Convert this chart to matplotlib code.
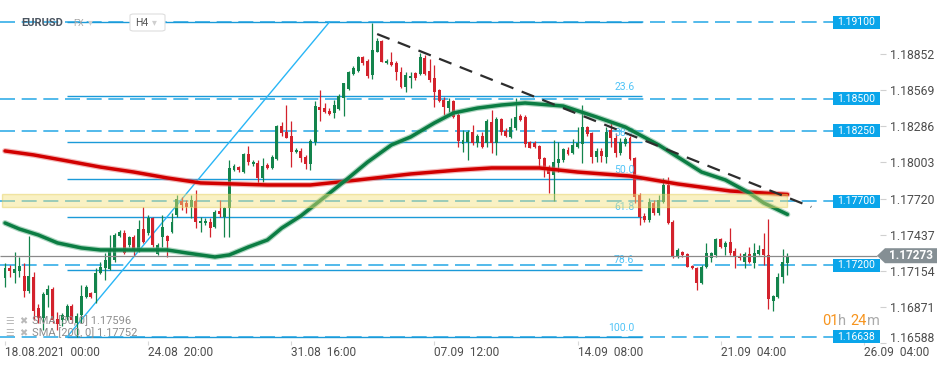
import numpy as np
import matplotlib
matplotlib.use("Agg")
import matplotlib.pyplot as plt
from matplotlib import patches, transforms
import matplotlib.patheffects as pe

plt.rcParams["font.family"] = ["Roboto", "DejaVu Sans"]

# EURUSD H4 bars, index 0 = 18.08.2021 00:00
opens = [
    1.17099, 1.17177, 1.17139, 1.17154, 1.17115, 1.16997, 1.17107, 1.16864, 1.16786, 1.16966,
    1.17014, 1.16779, 1.16771, 1.16794, 1.16880, 1.16748, 1.16810, 1.16950, 1.16982, 1.16982,
    1.17139, 1.17177, 1.17170, 1.17240, 1.17427, 1.17451, 1.17357, 1.17419, 1.17318, 1.17482,
    1.17451, 1.17568, 1.17287, 1.17419, 1.17427, 1.17458, 1.17592, 1.17701, 1.17686, 1.17654,
    1.17701, 1.17529, 1.17529, 1.17536, 1.17497, 1.17623, 1.17576, 1.17647, 1.17943, 1.17966,
    1.17927, 1.18069, 1.17990, 1.17998, 1.17881, 1.17982, 1.17958, 1.18029, 1.18287, 1.18240,
    1.18209, 1.18084, 1.18092, 1.18045, 1.17990, 1.18162, 1.18435, 1.18427, 1.18404, 1.18389,
    1.18420, 1.18506, 1.18576, 1.18694, 1.18717, 1.18826, 1.18795, 1.18686, 1.18865, 1.18951,
    1.18780, 1.18787, 1.18780, 1.18709, 1.18592, 1.18662, 1.18702, 1.18694, 1.18818, 1.18717,
    1.18662, 1.18568, 1.18490, 1.18427, 1.18482, 1.18373, 1.18147, 1.18162, 1.18240, 1.18154,
    1.18209, 1.18154, 1.18318, 1.18154, 1.18342, 1.18248, 1.18201, 1.18271, 1.18365, 1.18357,
    1.18162, 1.18154, 1.18131, 1.18037, 1.17966, 1.17904, 1.17998, 1.18021, 1.18100, 1.18077,
    1.18123, 1.18147, 1.18279, 1.18233, 1.18045, 1.18092, 1.18045, 1.18256, 1.18193, 1.18077,
    1.18147, 1.18193, 1.18037, 1.17748, 1.17584, 1.17552, 1.17686, 1.17608, 1.17693, 1.17826,
    1.17536, 1.17271, 1.17302, 1.17287, 1.17193, 1.17177, 1.17061, 1.17185, 1.17255, 1.17279,
    1.17404, 1.17341, 1.17380, 1.17310, 1.17271, 1.17224, 1.17287, 1.17217, 1.17287, 1.17326,
    1.17279, 1.16919, 1.16950, 1.17107, 1.17217,
]
highs = [
    1.17217, 1.17201, 1.17302, 1.17263, 1.17217, 1.17427, 1.17146, 1.16896, 1.16989, 1.17045,
    1.17029, 1.16833, 1.16826, 1.16896, 1.16896, 1.16826, 1.17045, 1.17045, 1.16989, 1.17177,
    1.17224, 1.17295, 1.17435, 1.17451, 1.17474, 1.17474, 1.17427, 1.17435, 1.17552, 1.17654,
    1.17592, 1.17576, 1.17373, 1.17592, 1.17435, 1.17608, 1.17748, 1.17732, 1.17709, 1.17748,
    1.17787, 1.17576, 1.17568, 1.17568, 1.17631, 1.17709, 1.17654, 1.18021, 1.17990, 1.17974,
    1.18077, 1.18131, 1.18021, 1.18021, 1.18037, 1.17998, 1.18061, 1.18295, 1.18318, 1.18451,
    1.18326, 1.18115, 1.18115, 1.18061, 1.18186, 1.18482, 1.18568, 1.18467, 1.18427, 1.18490,
    1.18537, 1.18624, 1.18717, 1.18756, 1.18834, 1.18834, 1.18811, 1.19092, 1.18975, 1.18959,
    1.18811, 1.18865, 1.18795, 1.18748, 1.18709, 1.18709, 1.18709, 1.18858, 1.18842, 1.18811,
    1.18764, 1.18576, 1.18513, 1.18506, 1.18490, 1.18389, 1.18256, 1.18256, 1.18295, 1.18225,
    1.18240, 1.18342, 1.18412, 1.18357, 1.18349, 1.18271, 1.18349, 1.18506, 1.18381, 1.18373,
    1.18170, 1.18170, 1.18139, 1.18045, 1.17982, 1.18178, 1.18162, 1.18115, 1.18123, 1.18186,
    1.18279, 1.18451, 1.18287, 1.18240, 1.18115, 1.18115, 1.18279, 1.18310, 1.18233, 1.18193,
    1.18201, 1.18209, 1.18045, 1.17764, 1.17608, 1.17725, 1.17709, 1.17748, 1.17881, 1.17888,
    1.17552, 1.17334, 1.17310, 1.17295, 1.17201, 1.17185, 1.17201, 1.17373, 1.17302, 1.17411,
    1.17411, 1.17388, 1.17489, 1.17334, 1.17295, 1.17302, 1.17341, 1.17373, 1.17357, 1.17451,
    1.17560, 1.16966, 1.17139, 1.17326, 1.17295,
]
lows = [
    1.17029, 1.17107, 1.17061, 1.17107, 1.16950, 1.16982, 1.16771, 1.16748, 1.16693, 1.16872,
    1.16748, 1.16693, 1.16724, 1.16771, 1.16748, 1.16638, 1.16748, 1.16942, 1.16942, 1.16904,
    1.17131, 1.17084, 1.17162, 1.17224, 1.17419, 1.17287, 1.17341, 1.17279, 1.17302, 1.17373,
    1.17435, 1.17341, 1.17279, 1.17341, 1.17263, 1.17451, 1.17576, 1.17631, 1.17608, 1.17568,
    1.17489, 1.17458, 1.17513, 1.17419, 1.17489, 1.17576, 1.17419, 1.17419, 1.17935, 1.17927,
    1.17920, 1.17982, 1.17974, 1.17842, 1.17849, 1.17951, 1.17951, 1.18021, 1.18209, 1.18193,
    1.17966, 1.18077, 1.18005, 1.17951, 1.17943, 1.18139, 1.18326, 1.18389, 1.18373, 1.18349,
    1.18412, 1.18365, 1.18568, 1.18686, 1.18709, 1.18764, 1.18663, 1.18655, 1.18865, 1.18787,
    1.18772, 1.18756, 1.18647, 1.18584, 1.18553, 1.18584, 1.18647, 1.18686, 1.18686, 1.18631,
    1.18435, 1.18474, 1.18373, 1.18396, 1.18349, 1.18123, 1.18084, 1.18021, 1.18139, 1.18123,
    1.18115, 1.18123, 1.18077, 1.18061, 1.18217, 1.18201, 1.18193, 1.18256, 1.18326, 1.18123,
    1.18115, 1.18115, 1.17958, 1.17888, 1.17764, 1.17701, 1.17927, 1.18005, 1.18061, 1.18069,
    1.18115, 1.17998, 1.18209, 1.17998, 1.18005, 1.18005, 1.17998, 1.18123, 1.18045, 1.18061,
    1.18131, 1.18021, 1.17686, 1.17513, 1.17536, 1.17536, 1.17592, 1.17592, 1.17686, 1.17521,
    1.17255, 1.17255, 1.17263, 1.17185, 1.17170, 1.17005, 1.17053, 1.17177, 1.17224, 1.17263,
    1.17334, 1.17279, 1.17279, 1.17177, 1.17240, 1.17177, 1.17217, 1.17177, 1.17279, 1.17201,
    1.16857, 1.16841, 1.16942, 1.17061, 1.17123,
]
closes = [
    1.17177, 1.17154, 1.17170, 1.17193, 1.16997, 1.17115, 1.16841, 1.16786, 1.16974, 1.17014,
    1.16771, 1.16740, 1.16810, 1.16880, 1.16771, 1.16802, 1.16958, 1.17029, 1.16950, 1.17139,
    1.17185, 1.17240, 1.17318, 1.17435, 1.17458, 1.17295, 1.17419, 1.17318, 1.17482, 1.17380,
    1.17568, 1.17357, 1.17357, 1.17497, 1.17388, 1.17536, 1.17717, 1.17670, 1.17654, 1.17709,
    1.17536, 1.17544, 1.17544, 1.17489, 1.17615, 1.17600, 1.17647, 1.17958, 1.17974, 1.17943,
    1.18069, 1.18005, 1.18005, 1.17881, 1.17974, 1.17958, 1.18045, 1.18287, 1.18233, 1.18193,
    1.18084, 1.18100, 1.18037, 1.17990, 1.18170, 1.18443, 1.18412, 1.18396, 1.18381, 1.18451,
    1.18521, 1.18624, 1.18709, 1.18741, 1.18826, 1.18780, 1.18678, 1.18881, 1.18951, 1.18787,
    1.18795, 1.18764, 1.18709, 1.18592, 1.18686, 1.18678, 1.18662, 1.18826, 1.18694, 1.18647,
    1.18553, 1.18482, 1.18435, 1.18482, 1.18357, 1.18170, 1.18178, 1.18240, 1.18154, 1.18209,
    1.18123, 1.18326, 1.18154, 1.18342, 1.18240, 1.18209, 1.18279, 1.18357, 1.18334, 1.18147,
    1.18115, 1.18123, 1.18029, 1.17943, 1.17912, 1.18005, 1.18029, 1.18107, 1.18069, 1.18139,
    1.18154, 1.18279, 1.18225, 1.18045, 1.18092, 1.18053, 1.18240, 1.18193, 1.18077, 1.18162,
    1.18186, 1.18029, 1.17732, 1.17576, 1.17552, 1.17693, 1.17608, 1.17709, 1.17826, 1.17529,
    1.17271, 1.17318, 1.17279, 1.17185, 1.17177, 1.17061, 1.17185, 1.17295, 1.17295, 1.17404,
    1.17341, 1.17373, 1.17295, 1.17263, 1.17255, 1.17287, 1.17224, 1.17295, 1.17318, 1.17279,
    1.16935, 1.16958, 1.17107, 1.17224, 1.17273,
]

# moving averages (bar index, value)
sma30_idx = [0, 3, 7, 11, 16, 20, 28, 34, 38, 44, 47, 51, 55, 58, 62, 67, 72, 76,
             81, 85, 90, 94, 99, 104, 109, 117, 124, 130, 137, 141, 146, 151, 156, 159, 164]
sma30 = [1.17529, 1.17482, 1.17435, 1.17373, 1.17334, 1.17318, 1.17318, 1.17318, 1.17295,
         1.17263, 1.17279, 1.17341, 1.17396, 1.17489, 1.17584, 1.17732, 1.17881, 1.18005,
         1.18139, 1.18201, 1.18311, 1.18389, 1.18427, 1.18451, 1.18467, 1.18443, 1.18357,
         1.18279, 1.18139, 1.18045, 1.17927, 1.17865, 1.17764, 1.17686, 1.17596]
sma200_idx = [0, 6, 13, 20, 27, 34, 41, 48, 55, 64, 74, 85, 95, 102, 112, 120, 131, 141, 152, 164]
sma200 = [1.18092, 1.18061, 1.18014, 1.17966, 1.17927, 1.17881, 1.17842, 1.17834, 1.17826,
          1.17826, 1.17865, 1.17912, 1.17943, 1.17959, 1.17959, 1.17927, 1.17896, 1.17834,
          1.17779, 1.17752]

h_levels = [1.19100, 1.18500, 1.18250, 1.17700, 1.17200, 1.16638]
fib_ratios = [0.0, 23.6, 38.2, 50.0, 61.8, 78.6, 100.0]
fib_hi, fib_lo = 1.19100, 1.16638
fib_start, fib_end = 13, 68
zone_lo, zone_hi = 1.17654, 1.17756
trend_idx = [78, 169]
trend_val = [1.19006, 1.17654]
last_price = 1.17273

y_ticks = [1.18852, 1.18569, 1.18286, 1.18003, 1.17720, 1.17437, 1.17154, 1.16871, 1.16588]
x_ticks = [0, 30, 60, 90, 120, 150, 180]
x_labels = ["18.08.2021  00:00", "24.08  20:00", "31.08  16:00", "07.09  12:00",
            "14.09  08:00", "21.09  04:00", "26.09  04:00"]

GREEN = "#13844c"
RED = "#d3222c"
W, H = 950, 367

fig = plt.figure(figsize=(9.5, 3.67), dpi=100)
ax = fig.add_axes([0, 22 / H, 880 / W, 345 / H])
ax.set_xlim(-1.05, 183.4)
ax.set_ylim(1.16575, 1.19272)
for s in ax.spines.values():
    s.set_visible(False)

py = (1.19272 - 1.16575) / 345  # price per pixel
blend = transforms.blended_transform_factory(fig.transFigure, ax.transData)

# candles
o, hi, lo, c = map(np.array, (opens, highs, lows, closes))
x = np.arange(len(o))
col = np.where(c >= o, GREEN, RED)
ax.vlines(x, lo, hi, colors=col, lw=0.9, zorder=3)
ax.bar(x, np.maximum(np.abs(c - o), py), bottom=np.minimum(o, c), width=0.62,
       color=col, zorder=4)

# horizontal levels
ax.hlines(h_levels, -1.05, 173.6, colors="#35aee8", linestyles=(0, (9, 4)), lw=1.2, zorder=2)

# fibonacci
fib_vals = [fib_hi - r / 100 * (fib_hi - fib_lo) for r in fib_ratios]
ax.hlines(fib_vals, fib_start, 133.6, colors="#1b9ad8", lw=1.0, zorder=2)
for r, v in zip(fib_ratios[1:], fib_vals[1:]):
    ax.annotate(f"{r:.1f}", (131.9, v), xytext=(0, 3), textcoords="offset points",
                ha="right", va="bottom", fontsize=7.5, color="#4fc3f7", zorder=5)
ax.plot([fib_start, fib_end], [fib_lo, fib_hi], color="#29b6f6", lw=1.0, zorder=2)

# current price
ax.hlines(last_price, -1.05, 182.8, colors="#8a8a8a", lw=0.9, zorder=5)

# moving averages
ax.plot(sma200_idx, sma200, color="#d10000", lw=2.5, zorder=6, solid_capstyle="round",
        path_effects=[pe.Stroke(linewidth=4.2, foreground="#e87070", alpha=0.5), pe.Normal()])
ax.plot(sma30_idx, sma30, color="#0b7d43", lw=2.5, zorder=6, solid_capstyle="round",
        path_effects=[pe.Stroke(linewidth=4.2, foreground="#5fae85", alpha=0.5), pe.Normal()])

# support zone
ax.add_patch(patches.Rectangle((-0.6, zone_lo), 164.5, zone_hi - zone_lo, fc="#f2e27a",
                               ec="#e3cd55", lw=1, alpha=0.45, zorder=7))

# down trend line
ax.plot(trend_idx, trend_val, color="#2d2d2d", lw=1.6, ls=(0, (6, 4)), zorder=8)

# axes ticks
ax.yaxis.tick_right()
ax.set_yticks(y_ticks)
ax.set_yticklabels([f"{v:.5f}" for v in y_ticks])
ax.tick_params(axis="y", length=4, color="#d0d0d0", pad=3, labelsize=8.8, labelcolor="#4d4d4d")
# bottom price label sits a little higher, clear of the time axis
lab = ax.get_yticklabels()[-1]
lab.set_transform(lab.get_transform() + transforms.ScaledTranslation(0, 0.06, fig.dpi_scale_trans))
ax.set_xticks(x_ticks)
ax.set_xticklabels(x_labels, ha="left")
ax.tick_params(axis="x", direction="in", length=3, color="#d8d8d8", pad=1,
               labelsize=8.6, labelcolor="#4d4d4d")

# blue level tags
for v in h_levels:
    ax.add_patch(patches.Rectangle((833 / W, v - 6.5 * py), 47 / W, 13 * py, transform=blend,
                                   fc="#0aa5ea", ec="none", clip_on=False, zorder=10))
    ax.text(856.5 / W, v, f"{v:.5f}", transform=blend, ha="center", va="center",
            color="white", fontsize=7.5, clip_on=False, zorder=11)

# current price tag
tag = [(877 / W, last_price), (885 / W, last_price + 7.5 * py), (937 / W, last_price + 7.5 * py),
       (937 / W, last_price - 7.5 * py), (885 / W, last_price - 7.5 * py)]
ax.add_patch(patches.Polygon(tag, closed=True, transform=blend, fc="#858f94", ec="none",
                             clip_on=False, zorder=10))
ax.text(889 / W, last_price, f"{last_price:.5f}", transform=blend, ha="left", va="center",
        color="white", fontsize=8.5, fontweight="bold", clip_on=False, zorder=11)


def fpos(px, pyy):
    return px / W, 1 - pyy / H


# countdown
for txt, px, cl in [("01", 822, "#f7941d"), ("h", 838, "#aaaaaa"),
                    ("24", 850, "#f7941d"), ("m", 867, "#aaaaaa")]:
    fig.text(*fpos(px, 321), txt, color=cl, fontsize=10.5, va="center", ha="left")

# header
fig.text(*fpos(21, 23), "EURUSD", fontsize=8, fontweight="bold", color="#4a5460", va="center")
fig.text(*fpos(73, 24), "FX", fontsize=6.5, color="#a8a8a8", va="center")
fig.text(*fpos(88, 22), "▾", fontsize=7, color="#cfcfcf", va="center")
fig.patches.append(patches.FancyBboxPatch(fpos(130, 31), 35 / W, 17 / H,
                                          boxstyle="round,pad=0,rounding_size=0.004",
                                          transform=fig.transFigure, fc="white", ec="#dedede",
                                          lw=0.8))
fig.text(*fpos(135, 23), "H4", fontsize=7.5, color="#555555", va="center")
fig.text(*fpos(152, 22), "▾", fontsize=7, color="#cfcfcf", va="center")

# legend
for yy, label in [(321, "SMA [30, 0] 1.17596"), (333, "SMA [200, 0] 1.17752")]:
    fig.text(*fpos(5, yy), "☰", fontsize=7, color="#b9b9b9", va="center")
    fig.text(*fpos(19, yy), "✖", fontsize=7, color="#b9b9b9", va="center")
    fig.text(*fpos(32, yy), label, fontsize=8, color="#8d8d8d", va="center")

fig.savefig("out.png", dpi=100, facecolor="white")
